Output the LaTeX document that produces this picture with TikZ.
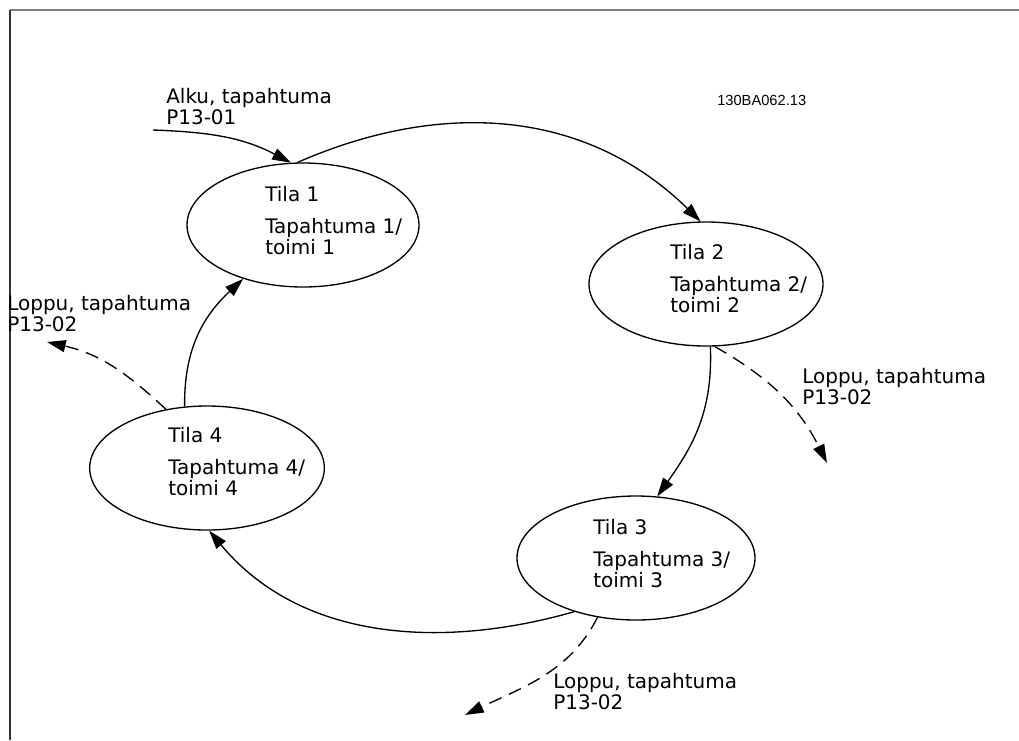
\documentclass[tikz,border=0pt]{standalone}
\usepackage{fontspec}
\setmainfont{DejaVu Sans}
\newfontfamily\codefont{Liberation Sans}
\usetikzlibrary{shapes.geometric,arrows.meta}
\begin{document}
\begin{tikzpicture}[x=0.75pt,y=-0.75pt,
  state/.style={draw, ellipse, line width=1pt, inner sep=0pt, minimum height=93pt},
  lbl/.style={anchor=base west, inner sep=0pt, align=left, font=\fontsize{15pt}{15.5pt}\selectfont},
  conn/.style={line width=1pt, -{Triangle[length=14pt,width=9pt]}},
  endconn/.style={conn, dash pattern=on 10pt off 6pt},
]
\useasboundingbox (0,0) rectangle (1019,740);
% frame
\draw[line width=1.4pt, black!50] (10,10) -- (1019,10);
\draw[line width=1.4pt, black!80] (10,10) -- (10,740);

% states
\node[state, minimum width=174pt] (e1) at (303,225) {};
\node[state, minimum width=175.5pt] (e2) at (706,284) {};
\node[state, minimum width=178.5pt] (e3) at (636,558) {};
\node[state, minimum width=176pt] (e4) at (207,468) {};

% state texts (anchor = baseline of last line)
\node[lbl] (t1) at (265,254) {Tila 1\\[8.6pt]Tapahtuma 1/\\toimi 1};
\node[lbl] (t2) at (670,312) {Tila 2\\[8.6pt]Tapahtuma 2/\\toimi 2};
\node[lbl] (t3) at (593,587) {Tila 3\\[8.6pt]Tapahtuma 3/\\toimi 3};
\node[lbl] (t4) at (168,495) {Tila 4\\[8.6pt]Tapahtuma 4/\\toimi 4};

% other labels
\node[lbl] (start) at (166,124) {Alku, tapahtuma\\P13-01};
\node[lbl] (end4) at (7,331) {Loppu, tapahtuma\\P13-02};
\node[lbl] (end2) at (802,404) {Loppu, tapahtuma\\P13-02};
\node[lbl] (end3) at (553,709) {Loppu, tapahtuma\\P13-02};
\node[anchor=base west, inner sep=0pt, font=\codefont\fontsize{11pt}{13pt}\selectfont] (code) at (717,105) {130BA062.13};

% connectors
\coordinate (s0) at (153,130);
\draw[conn] (s0) .. controls (208,132) and (242,137) .. (e1.101);
\draw[conn] (e1.95) .. controls (440,100) and (585,108) .. (e2.95);
\draw[conn] (e2.-86) .. controls (713,411) and (693,446) .. (e3.71);
\draw[conn] (e3.-139) .. controls (440,650) and (300,640) .. (e4.-88);
\draw[conn] (e4.110) .. controls (184,352) and (201,318) .. (e1.-138);

\coordinate (x4) at (47,342);
\coordinate (x2) at (827,463);
\coordinate (x3) at (465,715);
\draw[endconn] (e4.125) .. controls (127,373) and (100,354) .. (x4);
\draw[endconn] (e2.-82) .. controls (770,378) and (799,407) .. (x2);
\draw[endconn] (e3.-123) .. controls (570,672) and (523,687) .. (x3);
\end{tikzpicture}
\end{document}
